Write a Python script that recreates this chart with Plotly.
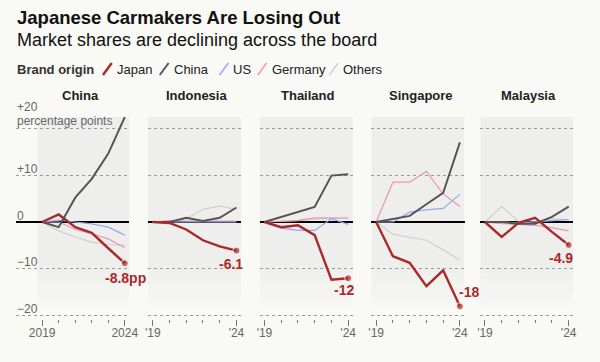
import plotly.graph_objects as go

# ---------------- data ----------------
years = [2019, 2020, 2021, 2022, 2023, 2024]
markets = ["China", "Indonesia", "Thailand", "Singapore", "Malaysia"]
brands = ["Others", "Germany", "US", "China", "Japan"]  # draw order (Japan on top)
legend_order = ["Japan", "China", "US", "Germany", "Others"]

china_japan = [0, 1.6, -1.1, -2.3, -5.6, -8.8]
china_china = [0, -1.1, 5.2, 9.2, 14.6, 22.4]
china_us = [0, 0.4, 0.0, -0.4, -1.1, -2.8]
china_germany = [0, 0.0, -1.6, -2.5, -3.6, -5.5]
china_others = [0, -1.9, -3.2, -4.3, -4.8, -5.0]

indonesia_japan = [0, -0.2, -1.6, -3.9, -5.2, -6.1]
indonesia_china = [0, 0.0, 0.9, 0.2, 0.9, 3.1]
indonesia_us = [0, 0.0, 0.0, 0.0, 0.0, 0.0]
indonesia_germany = [0, 0.3, 0.2, 0.2, 0.2, 0.2]
indonesia_others = [0, 0.0, 0.7, 2.7, 3.4, 2.7]

thailand_japan = [0, -1.1, -0.7, -2.8, -12.3, -12.0]
thailand_china = [0, 1.1, 2.1, 3.2, 9.9, 10.2]
thailand_us = [0, -1.3, -1.8, -1.8, 0.7, -0.5]
thailand_germany = [0, 0.1, 0.35, 0.9, 0.85, 0.85]
thailand_others = [0, 0.1, 0.3, 0.6, 0.8, 0.9]

singapore_japan = [0, -7.3, -8.7, -13.7, -10.3, -18.0]
singapore_china = [0, 0.6, 1.3, 3.8, 6.2, 17.0]
singapore_us = [0, 0.0, 2.1, 2.6, 2.9, 5.9]
singapore_germany = [0, 8.5, 8.5, 10.8, 6.0, 3.3]
singapore_others = [0, -2.6, -3.3, -3.9, -5.9, -8.2]

malaysia_japan = [0, -3.2, -0.2, 0.9, -2.1, -4.9]
malaysia_china = [0, 0.0, -0.35, -0.35, 1.1, 3.3]
malaysia_us = [0, 0.0, -0.2, 0.0, 0.3, 0.5]
malaysia_germany = [0, -0.35, -0.5, -0.7, -1.2, -1.9]
malaysia_others = [0, 3.3, 0.2, -0.4, 0.7, 0.5]

series = {
    "China": {"Japan": china_japan, "China": china_china, "US": china_us,
              "Germany": china_germany, "Others": china_others},
    "Indonesia": {"Japan": indonesia_japan, "China": indonesia_china, "US": indonesia_us,
                  "Germany": indonesia_germany, "Others": indonesia_others},
    "Thailand": {"Japan": thailand_japan, "China": thailand_china, "US": thailand_us,
                 "Germany": thailand_germany, "Others": thailand_others},
    "Singapore": {"Japan": singapore_japan, "China": singapore_china, "US": singapore_us,
                  "Germany": singapore_germany, "Others": singapore_others},
    "Malaysia": {"Japan": malaysia_japan, "China": malaysia_china, "US": malaysia_us,
                 "Germany": malaysia_germany, "Others": malaysia_others},
}
end_labels = ["-8.8pp", "-6.1", "-12", "-18", "-4.9"]
ytick_vals = [-20, -10, 10, 20]
ytick_text = ["−20", "−10", "+10", "+20"]
xtick_text_first = ["2019", "2024"]
xtick_text_other = ["'19", "'24"]

# ---------------- styles ----------------
W, H = 600, 362
BG = "#f9f9f6"
SHADE = "#eeeeec"
FONT = "Liberation Sans, Arial, sans-serif"
colors = {"Japan": "#a82a2a", "China": "#555555", "US": "#93a9ee",
          "Germany": "#ec95b6", "Others": "#cfcfcf"}
widths = {"Japan": 2.4, "China": 2.0, "US": 1.2, "Germany": 1.2, "Others": 1.2}

# pixel domains of each panel
panel_px = [(13, 129), (148, 243), (262, 357), (376, 471), (487, 582)]
x_ranges = [[2017.40, 2024.28]] + [[2018.72, 2024.28]] * 4
y_range = [-20.70, 22.41]
y_dom = [(H - 319) / H, (H - 117) / H]

# label placement (xanchor, xshift, yshift) relative to final Japan point
label_pos = [("right", 23, -15), ("right", 9, -13), ("right", 8, -12),
             ("left", -3, 14), ("right", 6, -13)]
title_shift = [8, 2, 2, 3, 2]

fig = go.Figure()
shapes = []
annotations = []

for i, m in enumerate(markets):
    xa = "x" if i == 0 else f"x{i+1}"
    ya = "y" if i == 0 else f"y{i+1}"
    for b in brands:
        vals = series[m][b]
        is_jp = b == "Japan"
        fig.add_trace(go.Scatter(
            x=years, y=vals, xaxis=xa, yaxis=ya,
            mode="lines+markers" if is_jp else "lines",
            line=dict(color=colors[b], width=widths[b]),
            marker=dict(size=[0] * (len(years) - 1) + [7], color=colors[b]) if is_jp else None,
            showlegend=False, hoverinfo="skip", cliponaxis=False,
        ))
    # shaded band with fading bottom
    shapes.append(dict(type="rect", xref=xa, yref=ya, x0=2018.72, x1=2024.28,
                       y0=-10, y1=y_range[1], fillcolor=SHADE, line_width=0, layer="below"))
    nsteps = 9
    for k in range(nsteps):
        shapes.append(dict(type="rect", xref=xa, yref=ya, x0=2018.72, x1=2024.28,
                           y0=-10 - (k + 1), y1=-10 - k, fillcolor=SHADE,
                           opacity=1 - (k + 0.5) / nsteps, line_width=0, layer="below"))
    # axes
    x0p, x1p = panel_px[i]
    fig.update_layout(**{
        ("xaxis" if i == 0 else f"xaxis{i+1}"): dict(
            domain=[x0p / W, x1p / W], range=x_ranges[i], anchor=ya,
            tickmode="array", tickvals=[years[0], years[-1]],
            ticktext=xtick_text_first if i == 0 else xtick_text_other,
            ticks="outside", ticklen=6, tickwidth=1, tickcolor="#777",
            ticklabelstandoff=-3,
            minor=dict(tickvals=years[1:-1], ticks="outside", ticklen=3,
                       tickwidth=1, tickcolor="#777", showgrid=False),
            showgrid=False, zeroline=False, showline=False,
            tickfont=dict(size=12, color="#666", family=FONT),
            fixedrange=True,
        ),
        ("yaxis" if i == 0 else f"yaxis{i+1}"): dict(
            domain=y_dom, range=y_range, anchor=xa,
            tickmode="array", tickvals=ytick_vals, showticklabels=False,
            showgrid=True, gridcolor="#9a9a9a", griddash="dot", gridwidth=1,
            zeroline=True, zerolinecolor="#000000", zerolinewidth=2,
            showline=False, ticks="", fixedrange=True,
        ),
    })
    # panel title
    annotations.append(dict(xref="paper", yref="paper", x=(x0p + x1p) / 2 / W,
                            y=1 - 95 / H, xshift=title_shift[i], text=f"<b>{m}</b>",
                            showarrow=False, xanchor="center", yanchor="middle",
                            font=dict(size=13, color="#222", family=FONT)))
    # end label
    xanc, xs, ys = label_pos[i]
    annotations.append(dict(xref=xa, yref=ya, x=years[-1], y=series[m]["Japan"][-1],
                            text=f"<b>{end_labels[i]}</b>", showarrow=False,
                            xanchor=xanc, yanchor="middle", xshift=xs, yshift=ys,
                            font=dict(size=14, color=colors["Japan"], family=FONT)))

# y-axis labels on the first panel
for v, t in zip(ytick_vals + [0], ytick_text + ["0"]):
    annotations.append(dict(xref="paper", yref="y", x=13 / W, y=v, text=t,
                            showarrow=False, xanchor="left", yanchor="middle",
                            yshift=21 if v == 20 else 6.5, borderpad=0,
                            font=dict(size=12, color="#666", family=FONT)))
annotations.append(dict(xref="paper", yref="y", x=13 / W, y=20, text="percentage points",
                        showarrow=False, xanchor="left", yanchor="middle", yshift=7.5,
                        borderpad=0, font=dict(size=12, color="#666", family=FONT)))

# title, subtitle
annotations.append(dict(xref="paper", yref="paper", x=12 / W, y=1 - 18 / H,
                        text="<b>Japanese Carmakers Are Losing Out</b>", showarrow=False,
                        xanchor="left", yanchor="middle",
                        font=dict(size=18.5, color="#111", family=FONT)))
annotations.append(dict(xref="paper", yref="paper", x=12 / W, y=1 - 40 / H,
                        text="Market shares are declining across the board", showarrow=False,
                        xanchor="left", yanchor="middle",
                        font=dict(size=18, color="#111", family=FONT)))

# legend row
annotations.append(dict(xref="paper", yref="paper", x=12 / W, y=1 - 69 / H,
                        text="<b>Brand origin</b>", showarrow=False,
                        xanchor="left", yanchor="middle",
                        font=dict(size=13, color="#333", family=FONT)))
legend_x = [102, 160, 221, 260, 333]
for b, lx in zip(legend_order, legend_x):
    shapes.append(dict(type="line", xref="paper", yref="paper",
                       x0=lx / W, y0=1 - 75 / H, x1=(lx + 9) / W, y1=1 - 63 / H,
                       line=dict(color=colors[b], width=widths[b] if b in ("Japan", "China") else 1.4)))
    annotations.append(dict(xref="paper", yref="paper", x=(lx + 12) / W, y=1 - 69 / H,
                            text=b, showarrow=False, xanchor="left", yanchor="middle",
                            font=dict(size=13, color="#222", family=FONT)))

fig.update_layout(
    width=W, height=H, margin=dict(l=0, r=0, t=0, b=0),
    paper_bgcolor=BG, plot_bgcolor="rgba(0,0,0,0)",
    shapes=shapes, annotations=annotations, showlegend=False,
    font=dict(family=FONT),
)
fig.write_html("out.html", config={"displayModeBar": False, "staticPlot": True},
               post_script="document.body.style.margin='0';document.body.style.background='%s';" % BG)
